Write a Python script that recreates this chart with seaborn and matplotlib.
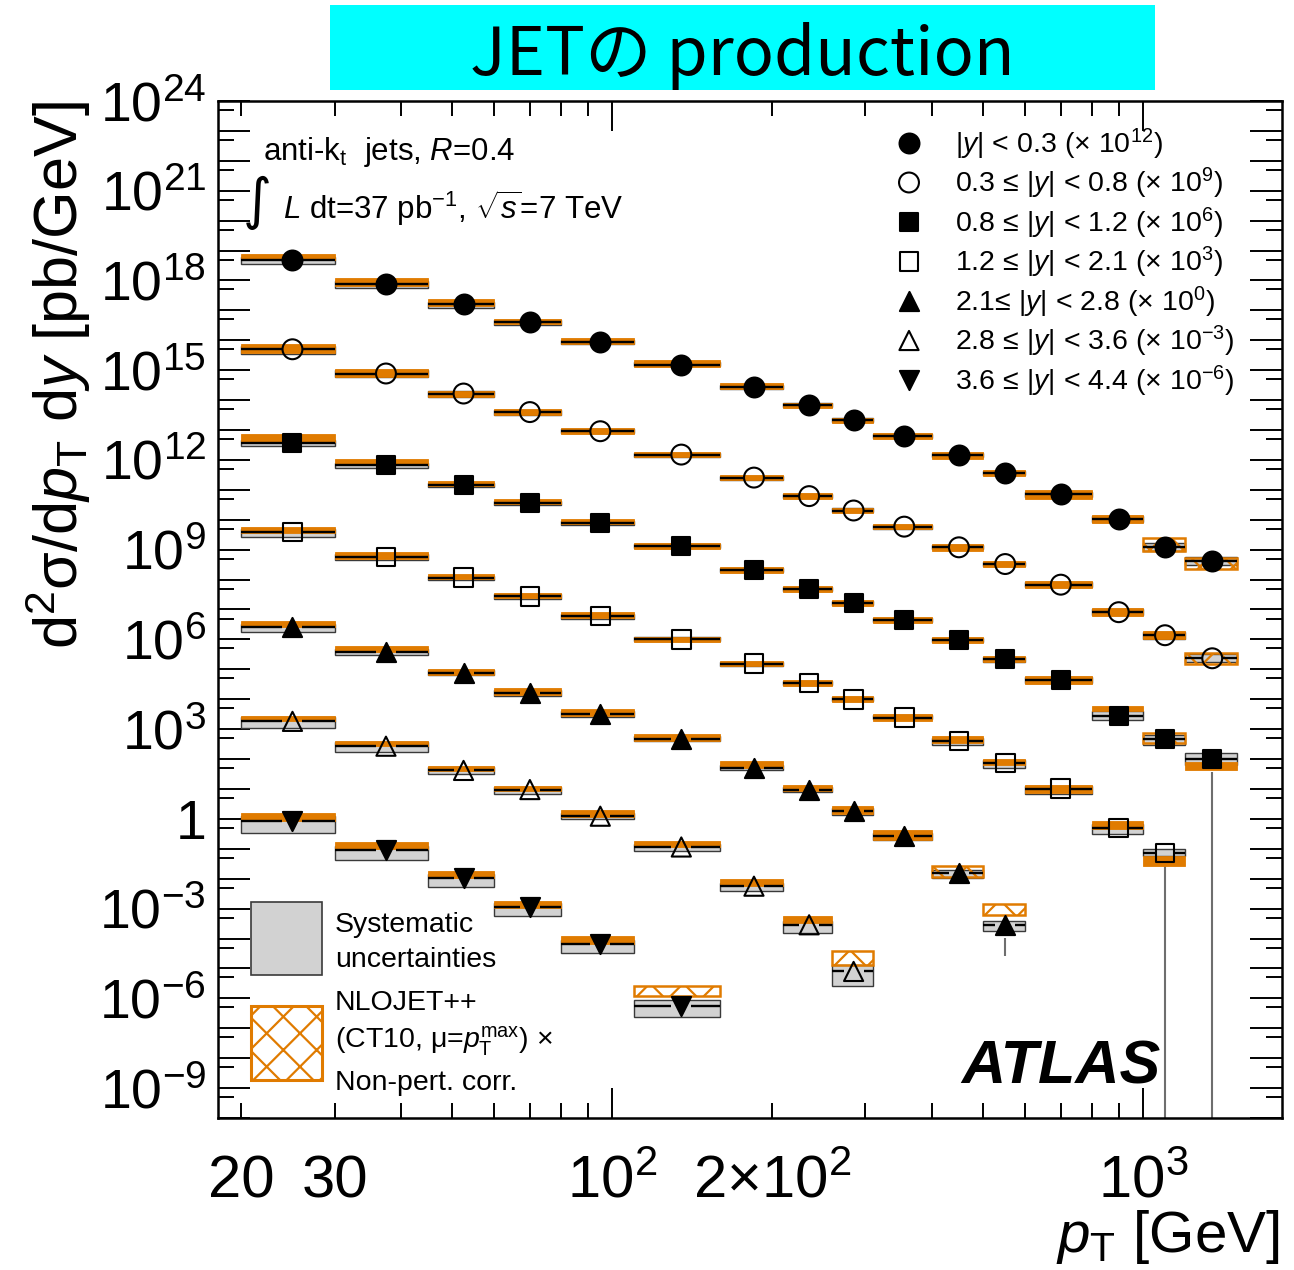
import numpy as np
import pandas as pd
import matplotlib
matplotlib.use("Agg")
import matplotlib.pyplot as plt
from matplotlib.patches import Rectangle
from matplotlib.ticker import FixedLocator, FuncFormatter
import seaborn as sns

sns.set_theme(style="ticks")
plt.rcParams.update({
    "font.family": ["Liberation Sans", "DejaVu Sans"],
    "mathtext.fontset": "custom",
    "mathtext.rm": "Liberation Sans",
    "mathtext.it": "Liberation Sans:italic",
    "mathtext.bf": "Liberation Sans:bold",
    "mathtext.sf": "Liberation Sans",
    "hatch.linewidth": 1.6,
    "axes.linewidth": 1.8,
    "axes.edgecolor": "black",
    "text.color": "black",
    "axes.labelcolor": "black",
    "xtick.color": "black",
    "ytick.color": "black",
})

ORANGE = "#E07B00"
GREY_FILL = "#D2D2D2"
GREY_EDGE = "#3a3a3a"

# jet pT bin edges [GeV]
pt_edges = [20, 30, 45, 60, 80, 110, 160, 210, 260, 310, 400, 500, 600, 800, 1000, 1200, 1500]

# ---- |y| < 0.3 ----
xsec_00 = [4.79e6, 7.41e5, 1.58e5, 4.07e4, 8.91e3, 1.55e3, 2.82e2, 6.61e1, 2.09e1, 6.17, 1.41,
           3.72e-1, 7.08e-2, 1.07e-2, 1.20e-3, 4.17e-4]
sysup_00 = [0.26, 0.26, 0.21, 0.17, 0.17, 0.17, 0.17, 0.17, 0.17, 0.17, 0.17, 0.17, 0.21, 0.21, 0.40, 0.40]
sysdn_00 = [0.28, 0.22, 0.22, 0.18, 0.14, 0.14, 0.14, 0.14, 0.14, 0.14, 0.14, 0.14, 0.18, 0.24, 0.27, 0.28]
nlo_00 = [1.28, 1.18, 1.14, 1.04, 1.05, 1.08, 1.05, 1.00, 1.00, 1.00, 1.00, 1.00, 1.00, 1.00, 1.23, 0.85]
nloerr_00 = [0.28, 0.34, 0.29, 0.24, 0.29, 0.29, 0.29, 0.24, 0.21, 0.26, 0.29, 0.26, 0.39, 0.33, 0.68, 0.53]
stat_00 = [0.01, 0.01, 0.01, 0.01, 0.01, 0.01, 0.01, 0.01, 0.01, 0.02, 0.02, 0.03, 0.05, 0.09, 0.20, 0.40]

# ---- 0.3 <= |y| < 0.8 ----
xsec_03 = [5.01e6, 7.76e5, 1.66e5, 3.98e4, 9.12e3, 1.51e3, 2.57e2, 6.17e1, 2.04e1, 5.89, 1.20,
           3.31e-1, 6.76e-2, 8.13e-3, 1.38e-3, 2.34e-4]
sysup_03 = [0.26, 0.26, 0.21, 0.17, 0.17, 0.17, 0.17, 0.17, 0.17, 0.17, 0.17, 0.17, 0.21, 0.26, 0.31, 0.40]
sysdn_03 = [0.28, 0.22, 0.21, 0.18, 0.14, 0.14, 0.14, 0.14, 0.14, 0.14, 0.14, 0.14, 0.18, 0.21, 0.24, 0.27]
nlo_03 = [1.06, 1.06, 1.00, 1.00, 1.00, 1.00, 1.00, 1.00, 1.00, 1.00, 1.00, 1.00, 1.00, 1.00, 1.00, 1.00]
nloerr_03 = [0.38, 0.36, 0.26, 0.24, 0.24, 0.24, 0.24, 0.26, 0.21, 0.24, 0.31, 0.29, 0.33, 0.38, 0.38, 0.50]
stat_03 = [0.01, 0.01, 0.01, 0.01, 0.01, 0.01, 0.01, 0.01, 0.01, 0.02, 0.02, 0.03, 0.05, 0.10, 0.25, 0.60]

# ---- 0.8 <= |y| < 1.2 ----
xsec_08 = [3.80e6, 6.76e5, 1.45e5, 3.55e4, 7.94e3, 1.32e3, 2.04e2, 5.01e1, 1.66e1, 4.57, 9.77e-1,
           2.19e-1, 4.37e-2, 2.75e-3, 4.79e-4, 1.02e-4]
sysup_08 = [0.26, 0.21, 0.17, 0.17, 0.17, 0.17, 0.17, 0.17, 0.17, 0.17, 0.17, 0.21, 0.26, 0.43, 0.36, 0.59]
sysdn_08 = [0.23, 0.18, 0.16, 0.14, 0.14, 0.14, 0.14, 0.14, 0.14, 0.14, 0.14, 0.18, 0.21, 0.29, 0.36, 0.36]
nlo_08 = [1.41, 1.23, 1.12, 1.12, 1.08, 1.00, 1.00, 1.00, 1.00, 1.00, 1.00, 1.00, 1.00, 1.78, 1.08, 0.57]
nloerr_08 = [0.34, 0.26, 0.21, 0.21, 0.21, 0.24, 0.26, 0.26, 0.26, 0.26, 0.26, 0.29, 0.38, 0.24, 0.47, 0.36]
stat_08 = [0.01, 0.01, 0.01, 0.01, 0.01, 0.01, 0.01, 0.01, 0.02, 0.02, 0.03, 0.04, 0.08, 0.30, 0.50, 1.00]

# ---- 1.2 <= |y| < 2.1 ----
xsec_12 = [3.89e6, 5.75e5, 1.15e5, 2.75e4, 6.03e3, 1.00e3, 1.55e2, 3.47e1, 1.00e1, 2.45, 4.07e-1,
           7.41e-2, 1.02e-2, 5.01e-4, 7.24e-5]
sysup_12 = [0.26, 0.21, 0.17, 0.17, 0.17, 0.17, 0.17, 0.17, 0.17, 0.17, 0.21, 0.26, 0.26, 0.36, 0.39]
sysdn_12 = [0.32, 0.23, 0.18, 0.18, 0.18, 0.14, 0.14, 0.14, 0.14, 0.14, 0.25, 0.32, 0.32, 0.36, 0.23]
nlo_12 = [1.17, 1.12, 1.09, 1.08, 1.08, 1.00, 1.00, 1.00, 1.00, 1.00, 1.11, 1.11, 1.00, 1.24, 0.54]
nloerr_12 = [0.29, 0.28, 0.24, 0.24, 0.24, 0.24, 0.24, 0.29, 0.26, 0.29, 0.29, 0.26, 0.38, 0.34, 0.44]
stat_12 = [0.01, 0.01, 0.01, 0.01, 0.01, 0.01, 0.01, 0.02, 0.02, 0.03, 0.04, 0.08, 0.15, 0.45, 1.00]

# ---- 2.1 <= |y| < 2.8 ----
xsec_21 = [2.63e6, 3.89e5, 7.59e4, 1.62e4, 3.31e3, 4.79e2, 5.13e1, 9.55, 1.78, 2.63e-1, 1.55e-2, 2.88e-4]
sysup_21 = [0.26, 0.26, 0.21, 0.21, 0.21, 0.21, 0.21, 0.21, 0.26, 0.26, 0.31, 0.39]
sysdn_21 = [0.32, 0.23, 0.17, 0.19, 0.21, 0.19, 0.18, 0.18, 0.22, 0.27, 0.32, 0.40]
nlo_21 = [1.24, 1.24, 1.09, 1.15, 1.11, 1.08, 1.29, 1.14, 1.14, 1.11, 1.13, 3.22]
nloerr_21 = [0.24, 0.24, 0.24, 0.31, 0.29, 0.29, 0.29, 0.29, 0.36, 0.44, 0.55, 0.56]
stat_21 = [0.01, 0.01, 0.01, 0.01, 0.01, 0.02, 0.02, 0.03, 0.05, 0.10, 0.30, 0.91]

# ---- 2.8 <= |y| < 3.6 ----
xsec_28 = [1.82e6, 2.69e5, 4.17e4, 9.55e3, 1.23e3, 1.15e2, 5.62, 2.88e-1, 7.94e-3]
sysup_28 = [0.36, 0.36, 0.26, 0.26, 0.26, 0.26, 0.31, 0.36, 0.68]
sysdn_28 = [0.40, 0.37, 0.22, 0.27, 0.22, 0.29, 0.32, 0.45, 0.67]
nlo_28 = [1.25, 1.21, 1.15, 1.06, 1.23, 1.24, 1.30, 1.50, 2.81]
nloerr_28 = [0.24, 0.21, 0.21, 0.21, 0.29, 0.24, 0.29, 0.33, 0.68]
stat_28 = [0.01, 0.01, 0.01, 0.01, 0.02, 0.03, 0.05, 0.12, 0.40]

# ---- 3.6 <= |y| < 4.4 ----
xsec_36 = [8.32e5, 9.33e4, 1.07e4, 1.15e3, 6.76e1, 5.37e-1]
sysup_36 = [0.47, 0.36, 0.36, 0.36, 0.36, 0.59]
sysdn_36 = [0.58, 0.54, 0.50, 0.49, 0.51, 0.57]
nlo_36 = [1.44, 1.36, 1.29, 1.22, 1.36, 3.27]
nloerr_36 = [0.36, 0.29, 0.29, 0.33, 0.36, 0.50]
stat_36 = [0.01, 0.02, 0.02, 0.03, 0.06, 0.30]

scale_exp = [12, 9, 6, 3, 0, -3, -6]
legend_labels = [
    r"$|y|$ < 0.3 (× $10^{12}$)",
    r"0.3 ≤ $|y|$ < 0.8 (× $10^{9}$)",
    r"0.8 ≤ $|y|$ < 1.2 (× $10^{6}$)",
    r"1.2 ≤ $|y|$ < 2.1 (× $10^{3}$)",
    r"2.1≤ $|y|$ < 2.8 (× $10^{0}$)",
    r"2.8 ≤ $|y|$ < 3.6 (× $10^{-3}$)",
    r"3.6 ≤ $|y|$ < 4.4 (× $10^{-6}$)",
]
marker_style = [("o", True), ("o", False), ("s", True), ("s", False),
                ("^", True), ("^", False), ("v", True)]
marker_area = {"o": 205, "s": 180, "^": 190, "v": 190}

series = [
    (xsec_00, sysup_00, sysdn_00, nlo_00, nloerr_00, stat_00),
    (xsec_03, sysup_03, sysdn_03, nlo_03, nloerr_03, stat_03),
    (xsec_08, sysup_08, sysdn_08, nlo_08, nloerr_08, stat_08),
    (xsec_12, sysup_12, sysdn_12, nlo_12, nloerr_12, stat_12),
    (xsec_21, sysup_21, sysdn_21, nlo_21, nloerr_21, stat_21),
    (xsec_28, sysup_28, sysdn_28, nlo_28, nloerr_28, stat_28),
    (xsec_36, sysup_36, sysdn_36, nlo_36, nloerr_36, stat_36),
]

W, H = 1294, 1270
fig = plt.figure(figsize=(W / 100, H / 100), dpi=100)
ax = fig.add_axes([218 / W, 1 - 1118 / H, 1064 / W, 1017 / H])
ax.set_xscale("log")
ax.set_yscale("log")
ax.set_xlim(18.1, 1827)
ax.set_ylim(1e-10, 1e24)
ax.set_facecolor("white")


def offset(x, y, dx, dy):
    """Move a data point by a pixel offset and return data coordinates."""
    X, Y = ax.transData.transform((x, y))
    return ax.transData.inverted().transform((X + dx, Y + dy))


rows = []
for k, (xs, sup, sdn, ratio, terr, stat) in enumerate(series):
    n = len(xs)
    lo = np.array(pt_edges[:n], dtype=float)
    hi = np.array(pt_edges[1:n + 1], dtype=float)
    xc = 0.5 * (lo + hi)
    val = np.array(xs) * 10.0 ** scale_exp[k]
    for i in range(n):
        # systematic uncertainty box
        ax.add_patch(Rectangle((lo[i], val[i] * (1 - sdn[i])), hi[i] - lo[i],
                               val[i] * (sup[i] + sdn[i]), facecolor=GREY_FILL,
                               edgecolor=GREY_EDGE, lw=1.0, zorder=2))
        # NLO x non-perturbative prediction band
        th = val[i] * ratio[i]
        tlo, thi = th / (1 + terr[i]), th * (1 + terr[i])
        thin = terr[i] < 0.45
        ax.add_patch(Rectangle((lo[i], tlo), hi[i] - lo[i], thi - tlo,
                               facecolor=ORANGE if thin else "none", edgecolor=ORANGE,
                               lw=0.6 if thin else 1.8, hatch=None if thin else "x",
                               zorder=3))
        # horizontal bin-width bar, open around the marker
        gl = offset(xc[i], val[i], -10, 0)[0]
        gr = offset(xc[i], val[i], 10, 0)[0]
        ax.hlines(val[i], lo[i], gl, color="black", lw=1.7, zorder=4)
        ax.hlines(val[i], gr, hi[i], color="black", lw=1.7, zorder=4)
        # statistical error bar, open around the marker
        ylo = val[i] * (1 - stat[i]) if stat[i] < 1 else 1e-12
        yhi = val[i] * (1 + stat[i])
        gb = offset(xc[i], val[i], 0, -13)[1]
        gt = offset(xc[i], val[i], 0, 13)[1]
        if ylo < gb:
            ax.vlines(xc[i], ylo, gb, color="#6e6e6e", lw=1.5, zorder=1)
        if yhi > gt:
            ax.vlines(xc[i], gt, yhi, color="#6e6e6e", lw=1.5, zorder=1)
        rows.append({"series": k, "pt": xc[i], "xsec": val[i]})

df = pd.DataFrame(rows)
for k, (mk, filled) in enumerate(marker_style):
    sub = df[df["series"] == k]
    sns.scatterplot(data=sub, x="pt", y="xsec", ax=ax, marker=mk, s=marker_area[mk],
                    facecolor="black" if filled else "none", edgecolor="black",
                    linewidth=1.5, zorder=5, legend=False)

ax.set_xlim(18.1, 1827)
ax.set_ylim(1e-10, 1e24)

# ---- axes ticks ----
ax.xaxis.set_major_locator(FixedLocator([100, 1000]))
ax.xaxis.set_minor_locator(FixedLocator([20, 30, 40, 50, 60, 70, 80, 90,
                                         200, 300, 400, 500, 600, 700, 800, 900]))
xmaj = {100: r"$\mathregular{10^{2}}$", 1000: r"$\mathregular{10^{3}}$"}
xmin = {20: "20", 30: "30", 200: r"$\mathregular{2{\times}10^{2}}$"}
ax.xaxis.set_major_formatter(FuncFormatter(lambda v, p: xmaj.get(int(round(v)), "")))
ax.xaxis.set_minor_formatter(FuncFormatter(lambda v, p: xmin.get(int(round(v)), "")))

ax.yaxis.set_major_locator(FixedLocator([10.0 ** e for e in range(-10, 25)]))
ax.yaxis.set_minor_locator(FixedLocator([5 * 10.0 ** e for e in range(-11, 24)]))


def ylab(v, p):
    e = int(round(np.log10(v)))
    if e % 3 != 0:
        return ""
    if e == 0:
        return "1"
    return r"$\mathregular{10^{%d}}$" % e


ax.yaxis.set_major_formatter(FuncFormatter(ylab))
ax.yaxis.set_minor_formatter(FuncFormatter(lambda v, p: ""))

ax.tick_params(which="both", direction="in", top=True, right=True, color="black", width=1.4)
ax.tick_params(axis="x", which="major", length=21.5, labelsize=43, pad=57)
ax.tick_params(axis="x", which="minor", length=10.8, labelsize=43, pad=57)
ax.tick_params(axis="y", which="major", length=23, labelsize=40, pad=8.5)
ax.tick_params(axis="y", which="minor", length=11.5)
for lbl in ax.get_xticklabels(which="both"):
    lbl.set_verticalalignment("baseline")

ax.set_ylabel("d$^{2}$σ/d$p_{\\rm T}$ d$y$ [pb/GeV]", fontsize=44, ha="right", va="center")
ax.yaxis.set_label_coords(-0.1504, 1.0)
ax.set_xlabel(r"$p_{\rm T}$ [GeV]", fontsize=42, ha="right", va="baseline")
ax.xaxis.set_label_coords(0.998, -0.1318)


def ay(py):
    return (1118 - py) / 1017


def axx(px):
    return (px - 218) / 1064


T = ax.transAxes

# ---- upper-left annotation ----
ax.text(axx(263), ay(160), r"anti-k$_{\rm t}$  jets, $R$=0.4", fontsize=22.5,
        ha="left", va="baseline", transform=T)
ax.text(axx(257), ay(203), "∫", fontsize=40, ha="center", va="center",
        family=["DejaVu Sans"], transform=T)
ax.text(axx(283), ay(218.5), r"$L$ dt=37 pb$^{-1}$, $\sqrt{s}$=7 TeV", fontsize=22.5,
        ha="left", va="baseline", transform=T)

# ---- rapidity legend ----
for k, (mk, filled) in enumerate(marker_style):
    yc = 143 + 39.5 * k
    ax.scatter([axx(909)], [ay(yc)], transform=T, marker=mk, s=marker_area[mk],
               facecolor="black" if filled else "none", edgecolor="black", linewidth=1.5,
               zorder=6, clip_on=False)
    ax.text(axx(955), ay(yc + 10), legend_labels[k], fontsize=20.5, ha="left",
            va="baseline", transform=T)

# ---- uncertainty legend ----
ax.add_patch(Rectangle((axx(251), ay(975)), 71 / 1064, 73 / 1017, transform=T,
                       facecolor=GREY_FILL, edgecolor=GREY_EDGE, lw=1.2, zorder=6))
ax.add_patch(Rectangle((axx(251), ay(1080)), 71 / 1064, 74 / 1017, transform=T,
                       facecolor="white", edgecolor=ORANGE, hatch="x", lw=2.2, zorder=6))
leg_lines = [("Systematic", 931.7), ("uncertainties", 966.7), ("NLOJET++", 1010),
             (r"(CT10, μ=$p_{\rm T}^{\rm max}$) ×", 1048), ("Non-pert. corr.", 1090)]
for txt, py in leg_lines:
    ax.text(axx(335), ay(py), txt, fontsize=20.5, ha="left", va="baseline", transform=T)

ax.text(axx(1160), ay(1084), "ATLAS", fontsize=44, fontweight="bold", fontstyle="italic",
        ha="right", va="baseline", transform=T)

# ---- title banner ----
fig.add_artist(Rectangle((330 / W, 1 - 90 / H), 825 / W, 85 / H, transform=fig.transFigure,
                         facecolor="#00FFFF", edgecolor="none"))
fig.text(742 / W, 1 - 75 / H, "JETの production", fontsize=48, ha="center", va="baseline",
         family=["Noto Sans CJK JP", "DejaVu Sans"])

for sp in ax.spines.values():
    sp.set_linewidth(1.8)
    sp.set_color("black")

fig.savefig("out.png", dpi=100)
